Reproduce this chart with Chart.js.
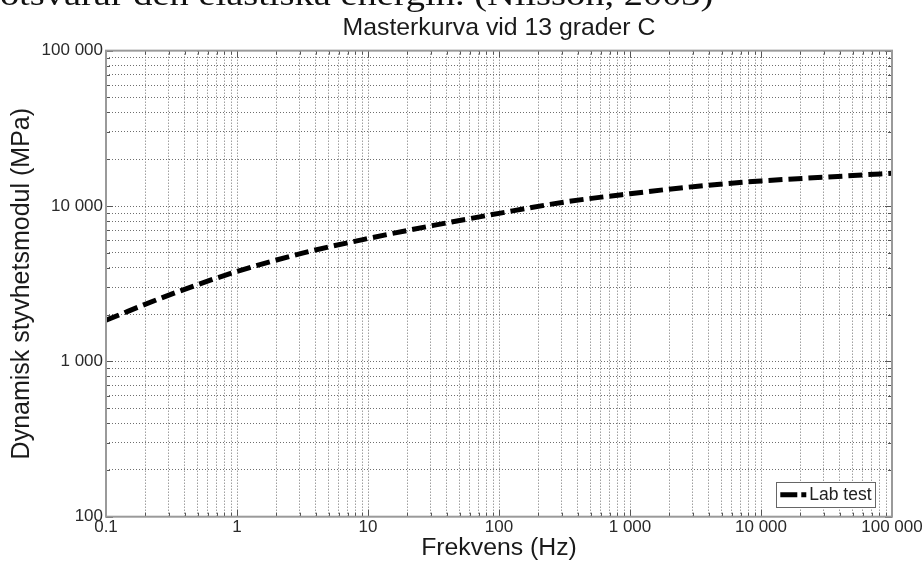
<!DOCTYPE html>
<html><head><meta charset="utf-8">
<script src="https://cdn.jsdelivr.net/npm/chart.js@4/dist/chart.umd.min.js"></script>
<style>
html,body{margin:0;padding:0;background:#fff;overflow:hidden}
#wrap{position:relative;width:924px;height:563px;overflow:hidden;background:#fff}
#hdr{position:absolute;left:-30px;top:-21.5px;font:31px/32px "Liberation Serif","Times New Roman",serif;color:#111;white-space:nowrap;transform:scaleX(1.24);transform-origin:0 0}
canvas{position:absolute;left:0;top:0}
</style></head><body>
<div id="wrap"><canvas id="c" width="924" height="563"></canvas><div id="hdr">motsvarar den elastiska energin. (Nilsson, 2003)</div></div>
<script>
// ---- data ----
const frequencyHz = [0.1, 0.316, 1, 3.16, 10, 31.6, 100, 316, 1000, 3160, 10000, 31600, 100000];
const modulusMPa  = [1840, 2710, 3790, 4970, 6180, 7500, 8970, 10600, 12000, 13360, 14500, 15350, 16260];
const seriesLabel = 'Lab test';
const chartTitle = 'Masterkurva vid 13 grader C';
const xAxisTitle = 'Frekvens (Hz)';
const yAxisTitle = 'Dynamisk styvhetsmodul (MPa)';
const xDecades = [0.1, 1, 10, 100, 1000, 10000, 100000];
const xDecadeLabels = ['0.1', '1', '10', '100', '1 000', '10 000', '100 000'];
const yDecades = [100, 1000, 10000, 100000];
const yDecadeLabels = ['100', '1 000', '10 000', '100 000'];

function withMinor(decades){
  const out = [];
  decades.forEach((d, i) => {
    out.push(d);
    if (i < decades.length - 1) for (let k = 2; k <= 9; k++) out.push(+(d * k).toPrecision(6));
  });
  return out;
}
const isDecade = v => Math.abs(Math.log10(v) - Math.round(Math.log10(v))) < 1e-9;
function labelFor(v, decs, labs){
  for (let i = 0; i < decs.length; i++) if (Math.abs(v - decs[i]) / decs[i] < 1e-9) return labs[i];
  return '';
}

const points = frequencyHz.map((f, i) => ({x: f, y: modulusMPa[i]}));

const framePlugin = {
  id: 'frame',
  afterDatasetsDraw(chart){
    const {ctx, chartArea: a, scales: {x, y}} = chart;
    ctx.save();
    ctx.strokeStyle = '#555'; ctx.lineWidth = 1;
    ctx.beginPath();
    x.ticks.forEach(t => {
      const p = Math.round(x.getPixelForValue(t.value)) + 0.5;
      const L = isDecade(t.value) ? 7 : 4;
      ctx.moveTo(p, a.bottom); ctx.lineTo(p, a.bottom - L);
      ctx.moveTo(p, a.top); ctx.lineTo(p, a.top + L);
    });
    y.ticks.forEach(t => {
      const p = Math.round(y.getPixelForValue(t.value)) + 0.5;
      const L = isDecade(t.value) ? 7 : 4;
      ctx.moveTo(a.left, p); ctx.lineTo(a.left + L, p);
      ctx.moveTo(a.right, p); ctx.lineTo(a.right - L, p);
    });
    ctx.stroke();
    ctx.strokeStyle = '#9a9a9a'; ctx.lineWidth = 2;
    ctx.strokeRect(a.left, a.top, a.right - a.left, a.bottom - a.top);
    ctx.restore();
  }
};

const legendPlugin = {
  id: 'boxLegend',
  afterDraw(chart){
    const {ctx, chartArea: a} = chart;
    const ds = chart.data.datasets[0];
    const w = 98.6, h = 25;
    const x0 = a.right - 17.4 - w, y0 = a.bottom - 9.4 - h;
    ctx.save();
    ctx.fillStyle = '#fff';
    ctx.fillRect(x0, y0, w, h);
    ctx.strokeStyle = '#666'; ctx.lineWidth = 1;
    ctx.strokeRect(Math.round(x0) + 0.5, Math.round(y0) + 0.5, Math.round(w), Math.round(h));
    const cy = y0 + h / 2;
    ctx.strokeStyle = ds.borderColor; ctx.lineWidth = ds.borderWidth;
    ctx.setLineDash([17, 4]);
    ctx.beginPath(); ctx.moveTo(x0 + 4.3, cy); ctx.lineTo(x0 + 30.3, cy); ctx.stroke();
    ctx.setLineDash([]);
    ctx.fillStyle = '#222';
    ctx.font = '17.5px "Liberation Sans", Arial, sans-serif';
    ctx.textBaseline = 'middle'; ctx.textAlign = 'left';
    ctx.fillText(ds.label, x0 + 33.3, cy + 0.5);
    ctx.restore();
  }
};

const gridOpts = {color: '#6e6e6e', lineWidth: 1, drawTicks: false};
const tickFont = {family: '"Liberation Sans", Arial, sans-serif', size: 17};
const titleFamily = '"Liberation Sans", Arial, sans-serif';

new Chart(document.getElementById('c'), {
  type: 'line',
  data: {
    datasets: [{
      label: seriesLabel,
      data: points,
      borderColor: '#000',
      borderWidth: 5,
      borderDash: [14, 6],
      borderCapStyle: 'butt',
      pointRadius: 0,
      fill: false,
      cubicInterpolationMode: 'monotone'
    }]
  },
  options: {
    responsive: false,
    animation: false,
    devicePixelRatio: 1,
    layout: {padding: {left: 0, right: 32, top: 0, bottom: 0}},
    plugins: {
      legend: {display: false},
      tooltip: {enabled: false},
      title: {
        display: true, text: chartTitle, fullSize: false,
        color: '#1a1a1a',
        font: {family: titleFamily, size: 24.8, weight: 'normal'},
        padding: {top: 13.4, bottom: 7.5}
      }
    },
    scales: {
      x: {
        type: 'logarithmic', min: 0.1, max: 100000,
        afterBuildTicks: s => { s.ticks = withMinor(xDecades).map(v => ({value: v, major: isDecade(v)})); },
        afterFit: s => { s.height = 46.3; },
        grid: gridOpts,
        border: {display: false, dash: [1, 2]},
        ticks: {autoSkip: false, maxRotation: 0, padding: 0, color: '#2a2a2a', font: tickFont,
          callback: v => labelFor(v, xDecades, xDecadeLabels)},
        title: {display: true, text: xAxisTitle, color: '#1a1a1a',
          font: {family: titleFamily, size: 24.8, weight: 'normal'},
          padding: {top: 0, bottom: 0}}
      },
      y: {
        type: 'logarithmic', min: 100, max: 100000,
        afterBuildTicks: s => { s.ticks = withMinor(yDecades).map(v => ({value: v, major: isDecade(v)})); },
        afterFit: s => { s.width = 106; },
        grid: gridOpts,
        border: {display: false, dash: [1, 2]},
        ticks: {autoSkip: false, padding: 3, color: '#2a2a2a', font: tickFont,
          callback: v => labelFor(v, yDecades, yDecadeLabels)},
        title: {display: true, text: yAxisTitle, color: '#1a1a1a',
          font: {family: titleFamily, size: 25, weight: 'normal'},
          padding: {top: 7, bottom: 0}}
      }
    }
  },
  plugins: [framePlugin, legendPlugin]
});
</script>
</body></html>
